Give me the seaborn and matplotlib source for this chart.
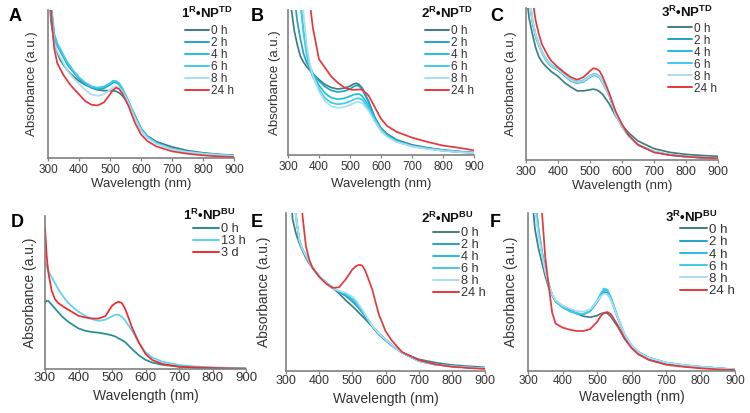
import numpy as np
import pandas as pd
import matplotlib
matplotlib.use("Agg")
import matplotlib.pyplot as plt
import seaborn as sns
from matplotlib.lines import Line2D

sns.set_theme(style="white")
plt.rcParams["font.family"] = ["Liberation Sans", "DejaVu Sans"]
plt.rcParams["mathtext.fontset"] = "custom"
plt.rcParams["mathtext.rm"] = "Liberation Sans"
plt.rcParams["mathtext.bf"] = "Liberation Sans:bold"
plt.rcParams["mathtext.it"] = "Liberation Sans:italic"

# ---------------- data (absorbance in arbitrary units, 0..1 = axis height) ----
WL = [300, 305, 310, 320, 330, 340, 350, 360, 370, 380, 400, 420, 440, 460, 480,
      500, 510, 520, 530, 540, 560, 580, 600, 620, 650, 700, 750, 800, 850, 900]

TIMES_H = ["0 h", "2 h", "4 h", "6 h", "8 h", "24 h"]
TIMES_D = ["0 h", "13 h", "3 d"]

# Panel A: 1R-NP(TD)
A_0h  = [1.60, 1.05, 0.92, 0.78, 0.71, 0.66, 0.63, 0.60, 0.575, 0.555, 0.52, 0.495, 0.475, 0.46, 0.455,
         0.455, 0.455, 0.45, 0.44, 0.42, 0.37, 0.29, 0.20, 0.15, 0.11, 0.075, 0.05, 0.035, 0.025, 0.018]
A_2h  = [2.00, 1.50, 1.02, 0.82, 0.76, 0.72, 0.68, 0.64, 0.61, 0.585, 0.535, 0.50, 0.475, 0.465, 0.47,
         0.495, 0.51, 0.51, 0.495, 0.465, 0.38, 0.28, 0.195, 0.145, 0.10, 0.062, 0.042, 0.03, 0.022, 0.015]
A_4h  = [2.00, 1.50, 1.03, 0.83, 0.77, 0.73, 0.69, 0.65, 0.62, 0.59, 0.54, 0.505, 0.48, 0.47, 0.478,
         0.50, 0.517, 0.515, 0.50, 0.468, 0.38, 0.28, 0.195, 0.145, 0.10, 0.062, 0.042, 0.03, 0.022, 0.015]
A_6h  = [2.00, 1.50, 1.04, 0.84, 0.775, 0.735, 0.695, 0.655, 0.625, 0.595, 0.545, 0.51, 0.485, 0.475, 0.483,
         0.505, 0.522, 0.52, 0.505, 0.47, 0.382, 0.28, 0.195, 0.145, 0.10, 0.062, 0.042, 0.03, 0.022, 0.015]
A_8h  = [1.90, 1.40, 0.98, 0.78, 0.72, 0.68, 0.64, 0.60, 0.57, 0.545, 0.50, 0.46, 0.43, 0.42, 0.43,
         0.46, 0.48, 0.485, 0.475, 0.45, 0.37, 0.27, 0.185, 0.135, 0.095, 0.058, 0.04, 0.028, 0.02, 0.014]
A_24h = [1.50, 1.20, 0.98, 0.74, 0.64, 0.60, 0.56, 0.53, 0.50, 0.475, 0.43, 0.385, 0.36, 0.355, 0.375,
         0.43, 0.46, 0.475, 0.465, 0.435, 0.35, 0.24, 0.16, 0.115, 0.078, 0.045, 0.029, 0.018, 0.011, 0.007]

# Panel B: 2R-NP(TD)
B_0h  = [1.50, 1.20, 1.02, 0.86, 0.76, 0.68, 0.64, 0.61, 0.585, 0.56, 0.52, 0.485, 0.465, 0.455, 0.46,
         0.475, 0.488, 0.495, 0.485, 0.46, 0.37, 0.26, 0.185, 0.145, 0.105, 0.07, 0.05, 0.035, 0.025, 0.016]
B_2h  = [1.90, 1.60, 1.35, 1.10, 0.92, 0.80, 0.70, 0.64, 0.60, 0.565, 0.51, 0.47, 0.445, 0.435, 0.44,
         0.455, 0.47, 0.48, 0.475, 0.45, 0.365, 0.255, 0.18, 0.14, 0.10, 0.066, 0.047, 0.033, 0.023, 0.015]
B_4h  = [3.00, 2.60, 2.20, 1.70, 1.35, 1.05, 0.86, 0.72, 0.62, 0.56, 0.48, 0.425, 0.395, 0.385, 0.39,
         0.405, 0.415, 0.42, 0.42, 0.405, 0.34, 0.25, 0.18, 0.135, 0.095, 0.062, 0.044, 0.03, 0.021, 0.014]
B_6h  = [3.00, 2.60, 2.20, 1.70, 1.35, 1.05, 0.84, 0.69, 0.60, 0.54, 0.455, 0.39, 0.36, 0.35, 0.355,
         0.37, 0.38, 0.39, 0.39, 0.38, 0.32, 0.24, 0.17, 0.13, 0.092, 0.06, 0.043, 0.03, 0.021, 0.014]
B_8h  = [3.20, 2.80, 2.40, 1.90, 1.55, 1.25, 0.98, 0.76, 0.63, 0.55, 0.44, 0.37, 0.335, 0.325, 0.33,
         0.345, 0.355, 0.365, 0.365, 0.355, 0.305, 0.23, 0.165, 0.125, 0.09, 0.06, 0.042, 0.03, 0.02, 0.014]
B_24h = [4.00, 3.60, 3.20, 2.60, 2.10, 1.70, 1.40, 1.20, 1.06, 0.88, 0.66, 0.60, 0.54, 0.50, 0.468,
         0.452, 0.45, 0.45, 0.452, 0.45, 0.41, 0.33, 0.25, 0.20, 0.16, 0.12, 0.09, 0.065, 0.05, 0.032]

# Panel C: 3R-NP(TD)
C_0h  = [1.30, 1.02, 0.93, 0.83, 0.74, 0.68, 0.645, 0.62, 0.60, 0.58, 0.55, 0.51, 0.48, 0.455, 0.455,
         0.462, 0.466, 0.462, 0.45, 0.43, 0.37, 0.29, 0.23, 0.18, 0.125, 0.075, 0.05, 0.037, 0.03, 0.024]
C_2h  = [1.55, 1.25, 1.06, 0.91, 0.81, 0.755, 0.705, 0.665, 0.635, 0.615, 0.59, 0.555, 0.52, 0.505, 0.515,
         0.545, 0.557, 0.555, 0.54, 0.505, 0.425, 0.30, 0.22, 0.16, 0.10, 0.055, 0.033, 0.022, 0.016, 0.012]
C_4h  = [1.60, 1.30, 1.08, 0.92, 0.82, 0.76, 0.71, 0.67, 0.64, 0.62, 0.595, 0.56, 0.525, 0.51, 0.52,
         0.55, 0.562, 0.56, 0.545, 0.51, 0.43, 0.30, 0.22, 0.16, 0.10, 0.055, 0.033, 0.022, 0.016, 0.012]
C_6h  = [1.60, 1.30, 1.09, 0.925, 0.825, 0.765, 0.715, 0.675, 0.645, 0.625, 0.60, 0.565, 0.53, 0.515, 0.525,
         0.555, 0.567, 0.565, 0.55, 0.515, 0.432, 0.30, 0.22, 0.16, 0.10, 0.055, 0.033, 0.022, 0.016, 0.012]
C_8h  = [1.60, 1.30, 1.08, 0.92, 0.82, 0.76, 0.71, 0.67, 0.64, 0.62, 0.595, 0.56, 0.525, 0.51, 0.52,
         0.55, 0.562, 0.56, 0.545, 0.51, 0.43, 0.30, 0.22, 0.16, 0.10, 0.055, 0.033, 0.022, 0.016, 0.012]
C_24h = [2.00, 1.60, 1.30, 1.06, 0.92, 0.83, 0.76, 0.72, 0.68, 0.65, 0.61, 0.575, 0.545, 0.528, 0.545,
         0.585, 0.603, 0.60, 0.585, 0.545, 0.44, 0.32, 0.235, 0.165, 0.10, 0.05, 0.032, 0.022, 0.015, 0.011]

# Panel D: 1R-NP(BU)
D_0h  = [0.435, 0.446, 0.445, 0.42, 0.395, 0.37, 0.345, 0.326, 0.308, 0.293, 0.265, 0.25, 0.242, 0.237, 0.23,
         0.22, 0.212, 0.20, 0.188, 0.174, 0.13, 0.09, 0.06, 0.042, 0.028, 0.015, 0.01, 0.007, 0.005, 0.004]
D_13h = [0.70, 0.67, 0.64, 0.60, 0.56, 0.52, 0.487, 0.457, 0.432, 0.41, 0.374, 0.348, 0.326, 0.315, 0.322,
         0.345, 0.355, 0.355, 0.34, 0.315, 0.25, 0.17, 0.11, 0.075, 0.048, 0.026, 0.016, 0.011, 0.007, 0.004]
D_3d  = [0.93, 0.74, 0.63, 0.51, 0.456, 0.43, 0.415, 0.40, 0.387, 0.374, 0.348, 0.337, 0.33, 0.33, 0.345,
         0.413, 0.43, 0.44, 0.43, 0.39, 0.27, 0.174, 0.098, 0.059, 0.033, 0.015, 0.01, 0.007, 0.004, 0.002]

# Panel E: 2R-NP(BU)
E_0h  = [1.80, 1.50, 1.25, 0.96, 0.87, 0.81, 0.76, 0.716, 0.68, 0.653, 0.60, 0.562, 0.53, 0.49, 0.448,
         0.41, 0.39, 0.368, 0.347, 0.326, 0.28, 0.23, 0.194, 0.158, 0.116, 0.074, 0.053, 0.038, 0.03, 0.023]
E_2h  = [2.20, 1.90, 1.60, 1.20, 0.98, 0.83, 0.77, 0.73, 0.69, 0.653, 0.60, 0.56, 0.526, 0.50, 0.475,
         0.44, 0.42, 0.395, 0.37, 0.34, 0.284, 0.236, 0.20, 0.162, 0.116, 0.063, 0.042, 0.03, 0.022, 0.017]
E_4h  = [2.20, 1.90, 1.60, 1.20, 0.98, 0.83, 0.77, 0.73, 0.69, 0.653, 0.60, 0.56, 0.526, 0.503, 0.483,
         0.452, 0.432, 0.405, 0.376, 0.347, 0.284, 0.236, 0.20, 0.162, 0.116, 0.063, 0.042, 0.03, 0.022, 0.017]
E_6h  = [2.20, 1.90, 1.60, 1.20, 0.98, 0.83, 0.77, 0.73, 0.69, 0.653, 0.60, 0.56, 0.526, 0.505, 0.49,
         0.46, 0.44, 0.41, 0.38, 0.35, 0.284, 0.236, 0.20, 0.162, 0.116, 0.063, 0.042, 0.03, 0.022, 0.017]
E_8h  = [2.20, 1.90, 1.60, 1.20, 0.98, 0.83, 0.77, 0.73, 0.69, 0.653, 0.60, 0.56, 0.526, 0.507, 0.495,
         0.47, 0.45, 0.42, 0.39, 0.355, 0.286, 0.236, 0.20, 0.162, 0.116, 0.063, 0.042, 0.03, 0.022, 0.017]
E_24h = [3.50, 3.00, 2.60, 2.00, 1.60, 1.25, 0.98, 0.79, 0.705, 0.653, 0.596, 0.554, 0.526, 0.53, 0.58,
         0.642, 0.662, 0.672, 0.668, 0.63, 0.516, 0.358, 0.253, 0.19, 0.12, 0.069, 0.042, 0.027, 0.019, 0.013]

# Panel F: 3R-NP(BU)
F_0h  = [1.80, 1.40, 1.15, 0.90, 0.78, 0.69, 0.60, 0.53, 0.48, 0.445, 0.412, 0.39, 0.365, 0.347, 0.34,
         0.35, 0.362, 0.368, 0.365, 0.345, 0.28, 0.205, 0.15, 0.11, 0.078, 0.045, 0.03, 0.021, 0.015, 0.01]
F_2h  = [2.20, 1.80, 1.45, 1.10, 0.90, 0.76, 0.64, 0.55, 0.48, 0.44, 0.405, 0.38, 0.365, 0.358, 0.378,
         0.435, 0.47, 0.50, 0.497, 0.455, 0.335, 0.228, 0.16, 0.12, 0.084, 0.053, 0.037, 0.027, 0.018, 0.01]
F_4h  = [2.20, 1.80, 1.45, 1.10, 0.90, 0.76, 0.64, 0.55, 0.48, 0.44, 0.405, 0.38, 0.365, 0.358, 0.38,
         0.44, 0.48, 0.515, 0.51, 0.465, 0.34, 0.23, 0.16, 0.12, 0.084, 0.053, 0.037, 0.027, 0.018, 0.01]
F_6h  = [2.20, 1.80, 1.45, 1.10, 0.90, 0.76, 0.64, 0.55, 0.48, 0.44, 0.405, 0.38, 0.366, 0.36, 0.382,
         0.445, 0.487, 0.522, 0.515, 0.468, 0.342, 0.232, 0.162, 0.12, 0.084, 0.053, 0.037, 0.027, 0.018, 0.01]
F_8h  = [2.00, 1.60, 1.30, 1.02, 0.86, 0.74, 0.63, 0.55, 0.485, 0.447, 0.415, 0.395, 0.38, 0.375, 0.39,
         0.44, 0.47, 0.49, 0.485, 0.45, 0.34, 0.232, 0.162, 0.12, 0.084, 0.053, 0.037, 0.027, 0.018, 0.01]
F_24h = [4.00, 3.50, 3.00, 2.30, 1.60, 1.02, 0.72, 0.54, 0.37, 0.30, 0.275, 0.262, 0.253, 0.253, 0.265,
         0.31, 0.345, 0.368, 0.373, 0.36, 0.29, 0.205, 0.145, 0.105, 0.07, 0.04, 0.027, 0.017, 0.01, 0.006]

COL_H = ["#3f7e82", "#22a4c4", "#20bedf", "#40cbec", "#a8def0", "#e3383e"]
COL_D = ["#238f90", "#5ad2f0", "#ee2b2b"]

XTICKS = [300, 400, 500, 600, 700, 800, 900]

# ---------------- layout -------------------------------------------------------
W, H = 750, 413
fig = plt.figure(figsize=(W / 100, H / 100), dpi=100)
TXT = "#333333"
SPINE = "#808080"

panels = [
    dict(letter="A", title=r"$\mathbf{1^{R}•NP^{TD}}$", series=[A_0h, A_2h, A_4h, A_6h, A_8h, A_24h],
         labels=TIMES_H, colors=COL_H, box=(48, 234, 158, 10), fs=(8.5, 9.5, 8.5),
         leg=(185, 25.5), title_pos=(233, 18), letter_pos=(9, 21), ylab_r=38, xlab_top=178.5,
         tick=(2.5, 2.0)),
    dict(letter="B", title=r"$\mathbf{2^{R}•NP^{TD}}$", series=[B_0h, B_2h, B_4h, B_6h, B_8h, B_24h],
         labels=TIMES_H, colors=COL_H, box=(288, 474, 155, 10), fs=(8.5, 9.5, 8.5),
         leg=(425, 25.5), title_pos=(473, 18), letter_pos=(251, 21), ylab_r=281, xlab_top=178.5,
         tick=(2.5, 2.0)),
    dict(letter="C", title=r"$\mathbf{3^{R}•NP^{TD}}$", series=[C_0h, C_2h, C_4h, C_6h, C_8h, C_24h],
         labels=TIMES_H, colors=COL_H, box=(526, 718, 160, 8), fs=(9.0, 9.5, 8.5),
         leg=(668, 22.5), title_pos=(713, 17), letter_pos=(490, 21), ylab_r=517, xlab_top=179.5,
         tick=(2.5, 2.0)),
    dict(letter="D", title=r"$\mathbf{1^{R}•NP^{BU}}$", series=[D_0h, D_13h, D_3d],
         labels=TIMES_D, colors=COL_D, box=(45, 246, 369, 216), fs=(9.5, 10.0, 9.2),
         leg=(193, 223.0), title_pos=(235, 220.5), letter_pos=(11, 227), ylab_r=37, xlab_top=389,
         tick=(1.8, 0.6)),
    dict(letter="E", title=r"$\mathbf{2^{R}•NP^{BU}}$", series=[E_0h, E_2h, E_4h, E_6h, E_8h, E_24h],
         labels=TIMES_H, colors=COL_H, box=(286, 485, 371, 213), fs=(9.0, 10.0, 9.2),
         leg=(433, 227.5), title_pos=(473, 223), letter_pos=(251, 227), ylab_r=271, xlab_top=391.5,
         tick=(2.0, 1.0)),
    dict(letter="F", title=r"$\mathbf{3^{R}•NP^{BU}}$", series=[F_0h, F_2h, F_4h, F_6h, F_8h, F_24h],
         labels=TIMES_H, colors=COL_H, box=(528, 735, 371, 213), fs=(8.5, 10.0, 9.6),
         leg=(680, 223.5), title_pos=(717, 222), letter_pos=(490, 227), ylab_r=518, xlab_top=389.5,
         tick=(2.0, 1.0)),
]

for p in panels:
    x0, x1, yb, yt = p["box"]
    ax = fig.add_axes([x0 / W, 1 - yb / H, (x1 - x0) / W, (yb - yt) / H])
    rows = []
    for lab, vals in zip(p["labels"], p["series"]):
        for w, v in zip(WL, vals):
            rows.append({"wl": w, "absorb": v, "time": lab})
    df = pd.DataFrame(rows)
    sns.lineplot(data=df, x="wl", y="absorb", hue="time", hue_order=p["labels"],
                 palette=dict(zip(p["labels"], p["colors"])), estimator=None, sort=False,
                 linewidth=1.25, legend=False, ax=ax)
    ax.set_xlim(300, 900)
    ax.set_ylim(0, 1)
    ax.set_xticks(XTICKS)
    ax.set_yticks([])
    for s in ["top", "right"]:
        ax.spines[s].set_visible(False)
    for s in ["left", "bottom"]:
        ax.spines[s].set_color(SPINE)
        ax.spines[s].set_linewidth(1.2)
    tfs, lfs, gfs = p["fs"]
    tl, tp = p["tick"]
    ax.tick_params(axis="x", length=tl, width=0.9, color=SPINE, pad=tp,
                   labelsize=tfs, labelcolor=TXT, bottom=True, direction="out")
    ax.set_facecolor("white")
    ax.set_xlabel("Wavelength (nm)", fontsize=lfs, color=TXT)
    ax.set_ylabel("Absorbance (a.u.)", fontsize=lfs, color=TXT)
    hgt = yb - yt
    wid = x1 - x0
    ax.xaxis.set_label_coords(0.5, (yb - p["xlab_top"]) / hgt)
    ax.yaxis.set_label_coords((p["ylab_r"] - x0) / wid, 0.5)
    handles = [Line2D([0], [0], color=c, lw=1.4) for c in p["colors"]]
    lx, ly = p["leg"]
    ax.legend(handles, p["labels"], loc="upper left", bbox_to_anchor=(lx / W, 1 - ly / H),
              bbox_transform=fig.transFigure, frameon=False, fontsize=gfs,
              handlelength=2.0, handletextpad=0.2, labelspacing=0.0,
              borderpad=0, borderaxespad=0, labelcolor=TXT)
    tx, ty = p["title_pos"]
    fig.text(tx / W, 1 - ty / H, p["title"], ha="right", va="baseline",
             fontsize=9.5, color="#111111")
    lx2, ly2 = p["letter_pos"]
    fig.text(lx2 / W, 1 - ly2 / H, p["letter"], ha="left", va="baseline",
             fontsize=13, fontweight="bold", color="black")

fig.savefig("out.png", dpi=100, facecolor="white")
